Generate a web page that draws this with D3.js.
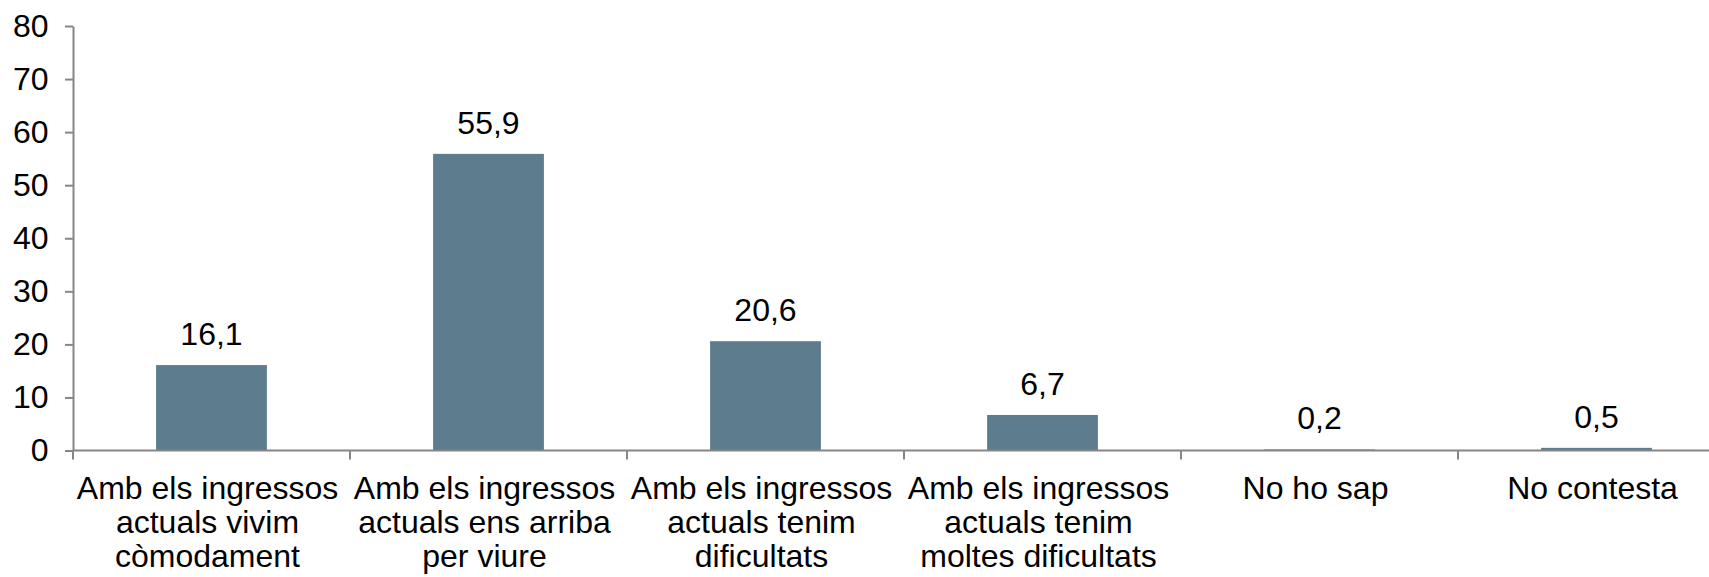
<!DOCTYPE html>
<html>
<head>
<meta charset="utf-8">
<script src="https://cdn.jsdelivr.net/npm/d3@7"></script>
<style>
  html, body { margin: 0; padding: 0; background: #fff; overflow: hidden; }
  svg { display: block; font-family: "Liberation Sans", Arial, sans-serif; }
</style>
</head>
<body>
<svg id="chart" width="1709" height="577"></svg>
<script>
// Survey answers: how the household gets by on its current income (%)
const categories = [
  "Amb els ingressos\nactuals vivim\ncòmodament",
  "Amb els ingressos\nactuals ens arriba\nper viure",
  "Amb els ingressos\nactuals tenim\ndificultats",
  "Amb els ingressos\nactuals tenim\nmoltes dificultats",
  "No ho sap",
  "No contesta"
];
const values = [16.1, 55.9, 20.6, 6.7, 0.2, 0.5];
const yTicks = [0, 10, 20, 30, 40, 50, 60, 70, 80];

(function draw() {
  const svg = d3.select("#chart");
  const axisColor = "#868686";
  const barColor = "#5d7d8f";
  const fontSize = 32;

  // plot area runs slightly past the right edge of the canvas
  const plotLeft = 73, plotRight = 1735, plotTop = 26, plotBottom = 450.5;

  const x = d3.scaleBand()
    .domain(categories)
    .range([plotLeft, plotRight])
    .paddingInner(0.6)
    .paddingOuter(0.3);

  const y = d3.scaleLinear()
    .domain([0, 80])
    .range([plotBottom, plotTop]);

  // bars
  svg.append("g")
    .selectAll("rect")
    .data(values)
    .join("rect")
    .attr("x", (d, i) => x(categories[i]))
    .attr("y", d => y(d))
    .attr("width", x.bandwidth())
    .attr("height", d => y(0) - y(d))
    .attr("fill", barColor);

  // value labels
  svg.append("g")
    .selectAll("text")
    .data(values)
    .join("text")
    .attr("x", (d, i) => x(categories[i]) + x.bandwidth() / 2)
    .attr("y", d => y(d) - 20)
    .attr("text-anchor", "middle")
    .attr("font-size", fontSize)
    .attr("fill", "#000")
    .text(d => d.toFixed(1).replace(".", ","));

  // y axis
  const yAxis = svg.append("g")
    .attr("transform", `translate(${plotLeft},0)`)
    .call(d3.axisLeft(y).tickValues(yTicks).tickSize(8).tickPadding(16.5).tickSizeOuter(0));
  yAxis.select(".domain").attr("stroke", axisColor).attr("stroke-width", 2);
  yAxis.selectAll(".tick line").attr("stroke", axisColor).attr("stroke-width", 2);
  yAxis.selectAll(".tick text")
    .attr("font-size", fontSize)
    .attr("font-family", "Liberation Sans, Arial, sans-serif")
    .attr("fill", "#000");

  // x axis: baseline with ticks at the category boundaries
  const xAxisG = svg.append("g");
  xAxisG.append("line")
    .attr("x1", plotLeft).attr("x2", plotRight)
    .attr("y1", y(0)).attr("y2", y(0))
    .attr("stroke", axisColor).attr("stroke-width", 2);

  const step = x.step();
  const boundaries = d3.range(categories.length + 1).map(i => plotLeft + i * step);
  xAxisG.selectAll("line.bound")
    .data(boundaries)
    .join("line")
    .attr("class", "bound")
    .attr("x1", d => d).attr("x2", d => d)
    .attr("y1", y(0)).attr("y2", y(0) + 9)
    .attr("stroke", axisColor).attr("stroke-width", 2);

  // category labels, one tspan per line, nudged slightly left of the band centre
  const lineHeight = 34;
  const labels = xAxisG.selectAll("text")
    .data(categories)
    .join("text")
    .attr("text-anchor", "middle")
    .attr("font-size", fontSize)
    .attr("fill", "#000")
    .attr("transform", d => `translate(${x(d) + x.bandwidth() / 2 - 4},${y(0) + 48.5})`);
  labels.each(function(d) {
    const t = d3.select(this);
    d.split("\n").forEach((line, i) => {
      t.append("tspan").attr("x", 0).attr("y", i * lineHeight).text(line);
    });
  });
})();
</script>
</body>
</html>
